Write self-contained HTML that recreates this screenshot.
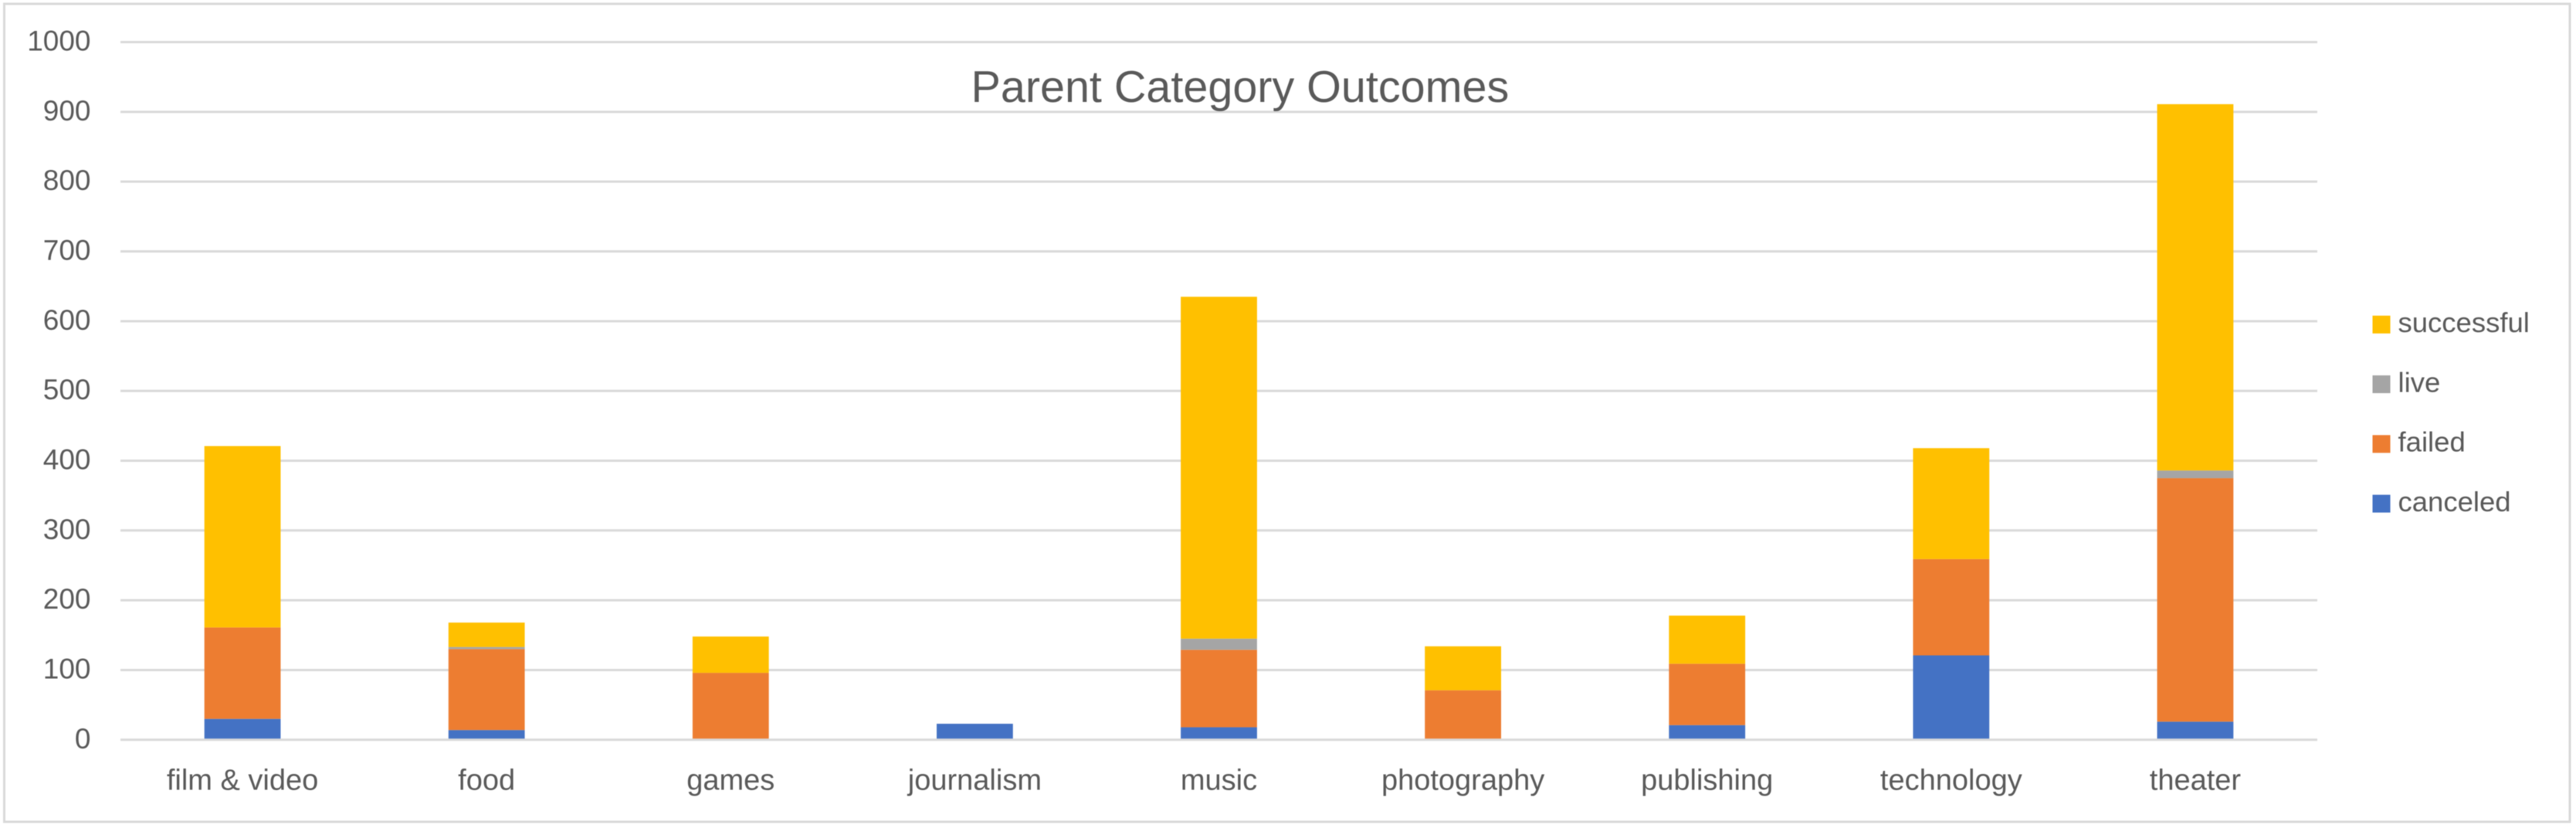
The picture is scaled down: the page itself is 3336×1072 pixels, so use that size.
<!DOCTYPE html>
<html lang="en">
<head>
<meta charset="utf-8">
<title>Parent Category Outcomes</title>
<style>
  html, body { margin: 0; padding: 0; background: #ffffff; }
  body { width: 3336px; height: 1072px; overflow: hidden; }
  svg { display: block; filter: blur(0.6px); }
  text { font-family: "Liberation Sans", sans-serif; fill: #595959; }
</style>
</head>
<body>
<svg id="chart" xmlns="http://www.w3.org/2000/svg" width="3336" height="1072" viewBox="0 0 3336 1072">
  <rect x="5.5" y="5" width="3322.5" height="1059" fill="#ffffff" stroke="#d9d9d9" stroke-width="3"/>
  <g id="grid"></g>
  <g id="y-labels"></g>
  <g id="bars"></g>
  <g id="x-axis"></g>
  <g id="legend"></g>
  <text x="1257.5" y="132" font-size="57.5">Parent Category Outcomes</text>
</svg>
<script>
const categories = ["film & video", "food", "games", "journalism", "music", "photography", "publishing", "technology", "theater"];
const canceled = [30, 14, 0, 23, 18, 0, 21, 121, 26];
const failed = [131, 116, 96, 0, 111, 71, 88, 138, 349];
const live = [0, 3, 0, 0, 16, 0, 0, 0, 11];
const successful = [260, 35, 52, 0, 490, 63, 69, 159, 525];
const seriesNames = ["canceled", "failed", "live", "successful"];
const yTicks = [0, 100, 200, 300, 400, 500, 600, 700, 800, 900, 1000];

const seriesValues = [canceled, failed, live, successful];
const seriesColors = ["#4472C4", "#ED7D31", "#A5A5A5", "#FFC000"];

const NS = "http://www.w3.org/2000/svg";
const plotLeft = 156, plotRight = 3001, plotZero = 957.8, plotTop = 54.5;
const yMax = yTicks[yTicks.length - 1];
const bandWidth = (plotRight - plotLeft) / categories.length;
const barWidth = bandWidth * 0.3125;

function yScale(v) { return plotZero - (v / yMax) * (plotZero - plotTop); }
function xCenter(i) { return plotLeft + bandWidth * (i + 0.5); }
function slug(s) { return s.replace(/[^a-z0-9]+/gi, "-").toLowerCase(); }

function makeLine(parent, x1, x2, y) {
  const l = document.createElementNS(NS, "line");
  l.setAttribute("x1", x1);
  l.setAttribute("x2", x2);
  l.setAttribute("y1", y);
  l.setAttribute("y2", y);
  l.setAttribute("stroke", "#d9d9d9");
  l.setAttribute("stroke-width", "3");
  parent.appendChild(l);
  return l;
}
function makeText(parent, str, x, y, size, anchor) {
  const t = document.createElementNS(NS, "text");
  t.setAttribute("x", x);
  t.setAttribute("y", y);
  t.setAttribute("font-size", size);
  t.setAttribute("text-anchor", anchor);
  t.textContent = str;
  parent.appendChild(t);
  return t;
}
function makeRect(parent, x, y, w, h, fill) {
  const r = document.createElementNS(NS, "rect");
  r.setAttribute("x", x);
  r.setAttribute("y", y);
  r.setAttribute("width", w);
  r.setAttribute("height", h);
  r.setAttribute("fill", fill);
  parent.appendChild(r);
  return r;
}

const gridG = document.getElementById("grid");
const yLabelG = document.getElementById("y-labels");
const barsG = document.getElementById("bars");
const xAxisG = document.getElementById("x-axis");
const legendG = document.getElementById("legend");

yTicks.forEach(function (tick) {
  if (tick !== 0) {
    const line = makeLine(gridG, plotLeft, plotRight, yScale(tick));
    
    
  }
  const label = makeText(yLabelG, String(tick), 117.5, yScale(tick) + 11, 37, "end");
  
  
});

categories.forEach(function (cat, i) {
  let running = 0;
  seriesValues.forEach(function (vals, s) {
    const v = vals[i];
    const top = yScale(running + v);
    const bottom = yScale(running);
    const bar = makeRect(barsG, xCenter(i) - barWidth / 2, top, barWidth, bottom - top, seriesColors[s]);
    
    
    running += v;
  });
  const catLabel = makeText(xAxisG, cat, xCenter(i), 1022.5, 38, "middle");
  
  
});

const baseline = makeLine(xAxisG, plotLeft, plotRight, plotZero);



seriesNames.slice().reverse().forEach(function (name, k) {
  const color = seriesColors[seriesNames.indexOf(name)];
  const swatch = makeRect(legendG, 3072.5, 408.7 + k * 77.3, 23, 23, color);
  
  
  const entry = makeText(legendG, name, 3105.5, 430 + k * 77.3, 36.5, "start");
  
  
});
</script>
</body>
</html>
